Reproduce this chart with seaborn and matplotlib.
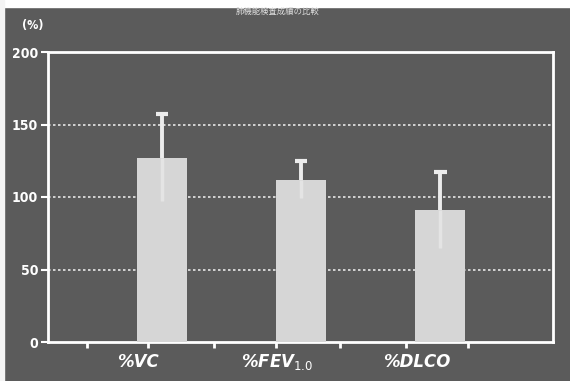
import matplotlib
matplotlib.use("Agg")
import matplotlib.pyplot as plt
import matplotlib.transforms as mtransforms
import numpy as np
import pandas as pd
import seaborn as sns

# Pulmonary function results (% of predicted), mean and SD
categories = ["%VC", "%FEV$_{1.0}$", "%DLCO"]
means = [127, 112, 91]
sds = [30, 13, 26]
y_ticks = [0, 50, 100, 150, 200]

bg = "#5b5b5b"
bar_color = "#d6d6d6"
line_color = "#ececec"

sns.set_theme(style="dark")
plt.rcParams["font.family"] = ["DejaVu Sans", "Noto Sans CJK JP"]

fig = plt.figure(figsize=(5.70, 3.81), dpi=100, facecolor=bg)
ax = fig.add_axes([48 / 570, 39 / 381, 505 / 570, 290 / 381])
ax.set_facecolor(bg)

df = pd.DataFrame({"item": categories, "value": means})
sns.barplot(data=df, x="item", y="value", color=bar_color, width=0.36,
            saturation=1, errorbar=None, ax=ax, zorder=3, linewidth=0)

# SD whiskers: full line through the bar, cap only on top
x = np.arange(len(categories))
m = np.array(means)
s = np.array(sds)
ax.vlines(x, m, m + s, color=line_color, linewidth=2.8, zorder=4)
ax.vlines(x, m - s, m, color="#e4e4e4", linewidth=2.5, zorder=4)
ax.hlines(m + s, x - 0.045, x + 0.045, color=line_color, linewidth=3,
          zorder=4)

ax.set_xlim(-0.82, 2.81)
ax.set_ylim(0, 200)
ax.set_yticks(y_ticks)
ax.set_yticklabels([str(v) for v in y_ticks], color="white", fontsize=10,
                   fontweight="bold", fontstretch="condensed")
ax.tick_params(axis="y", which="major", left=True, colors="white", length=5,
               width=1.5, pad=2, labelcolor="white")

# dotted gridlines
for v in y_ticks[1:-1]:
    ax.axhline(v, color="white", linestyle=(0, (1.5, 1.5)), linewidth=1.2,
               zorder=2, alpha=0.85)

# category labels below the axis, set slightly left of each bar
ax.set_xticks([])
xt = mtransforms.blended_transform_factory(ax.transData, ax.transAxes)
for xi, name in zip(x, categories):
    ax.text(xi - 0.17, -0.07, name, transform=xt, color="white", fontsize=12,
            fontstyle="italic", fontweight="bold", ha="center", va="center",
            clip_on=False)

# short marks along the baseline
marks = [-0.54, -0.10, 0.37, 0.82, 1.28, 1.75, 2.20]
for xm in marks:
    ax.plot([xm, xm], [0, -0.022], transform=xt, color="white",
            linewidth=2, clip_on=False, zorder=5, solid_capstyle="butt")

for side in ["left", "right", "top", "bottom"]:
    ax.spines[side].set_visible(True)
    ax.spines[side].set_color("white")
    ax.spines[side].set_linewidth(2)

ax.set_xlabel("")
ax.set_ylabel("")
fig.text(33 / 570, 1 - 25 / 381, "(%)", color="white", fontsize=9,
         fontweight="bold", ha="center", va="center",
         fontstretch="condensed")
fig.text(278 / 570, 1 - 11 / 381, "肺機能検査成績の比較", color="#dddddd",
         fontsize=6, ha="center", va="center",
         family=["Noto Sans CJK JP", "DejaVu Sans"])

# paper edges along the top and left
fig.patches.append(plt.Rectangle((0, 1 - 7 / 381), 1, 7 / 381,
                                 transform=fig.transFigure, color="white",
                                 zorder=0))
fig.patches.append(plt.Rectangle((0, 0), 4 / 570, 1,
                                 transform=fig.transFigure, color="#f4f4f4",
                                 zorder=0))

fig.savefig("out.png", dpi=100, facecolor=bg)
